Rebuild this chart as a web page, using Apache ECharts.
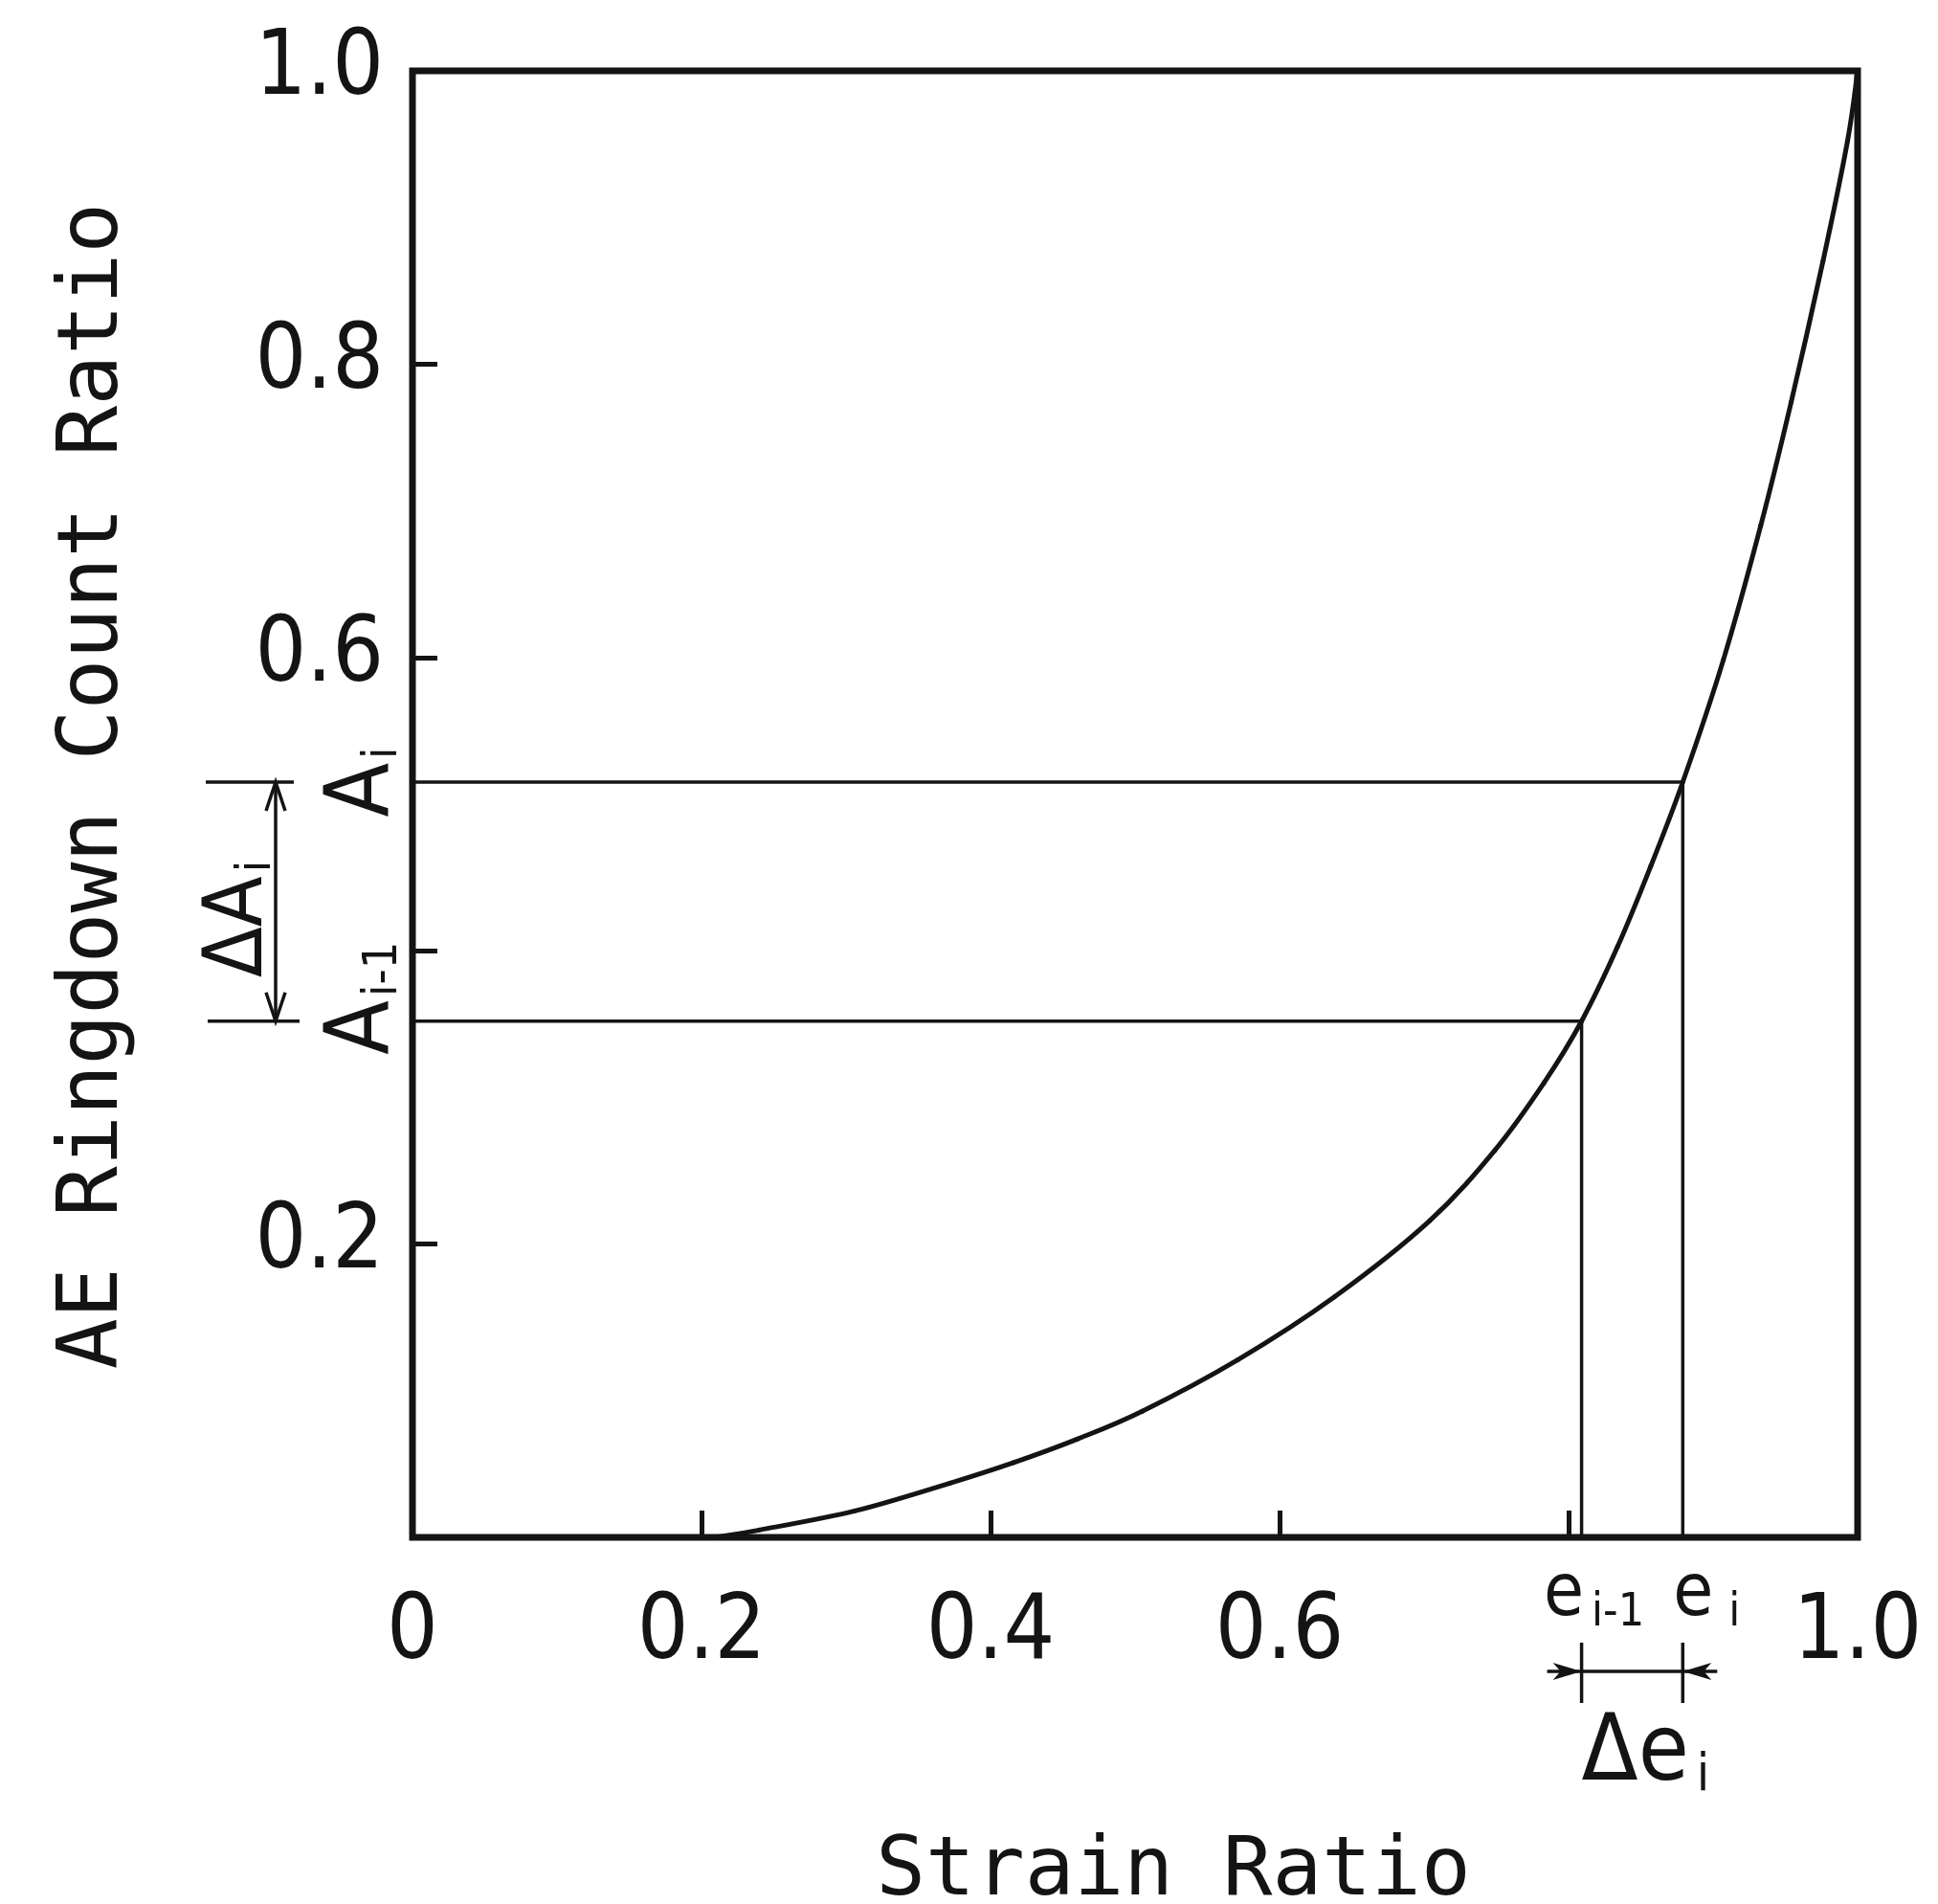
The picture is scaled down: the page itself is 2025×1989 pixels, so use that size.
<!DOCTYPE html>
<html>
<head>
<meta charset="utf-8">
<title>AE Ringdown Count Ratio vs Strain Ratio</title>
<script src="https://cdn.jsdelivr.net/npm/echarts/dist/echarts.min.js"></script>
<style>
  html, body { margin: 0; padding: 0; background: #ffffff; }
  #chart { width: 2025px; height: 1989px; }
</style>
</head>
<body>
<div id="chart"></div>
<script>
// Cumulative AE ringdown count (normalised) against strain (normalised)
const strainRatio = [0.210, 0.240, 0.306, 0.372, 0.416, 0.460, 0.505, 0.571, 0.638, 0.704,
                     0.749, 0.783, 0.809, 0.834, 0.857, 0.879, 0.907, 0.933, 0.954, 0.976,
                     0.993, 1.000];
const countRatio  = [0.000, 0.005, 0.018, 0.037, 0.051, 0.067, 0.086, 0.121, 0.164, 0.216,
                     0.264, 0.310, 0.352, 0.403, 0.458, 0.515, 0.598, 0.690, 0.774, 0.870,
                     0.952, 1.000];

// Two successive readings on the curve: (e_{i-1}, A_{i-1}) and (e_i, A_i)
const stepStrain = [0.809, 0.879];
const stepCount  = [0.352, 0.515];

// Axis ticks and labels
const xTickValues  = [0.2, 0.4, 0.6, 0.8];
const xLabelValues = [0, 0.2, 0.4, 0.6, 1.0];
const yTickValues  = [0.2, 0.4, 0.6, 0.8];
const yLabelValues = [0.2, 0.6, 0.8, 1.0];

const ink = '#141414';
const numFont = "'DejaVu Sans Condensed', 'DejaVu Sans'";
const monoFont = "'DejaVu Sans Mono'";

const curve = strainRatio.map((x, i) => [x, countRatio[i]]);
const guidePrev = [[0, stepCount[0]], [stepStrain[0], stepCount[0]], [stepStrain[0], 0]];
const guideCurr = [[0, stepCount[1]], [stepStrain[1], stepCount[1]], [stepStrain[1], 0]];

const fmtNum = v => (v === 0 ? '0' : v.toFixed(1));

// Smooth curve through every reading: one cubic segment per interval
// (Catmull-Rom tangents), positioned through the cartesian axes.
function renderCurve(params, api) {
  const i = params.dataIndex;
  const n = curve.length;
  if (i >= n - 1) return null;
  const P = k => api.coord(curve[Math.max(0, Math.min(n - 1, k))]);
  const p0 = P(i - 1), p1 = P(i), p2 = P(i + 1), p3 = P(i + 2);
  return {
    type: 'bezierCurve',
    shape: {
      x1: p1[0], y1: p1[1], x2: p2[0], y2: p2[1],
      cpx1: p1[0] + (p2[0] - p0[0]) / 6, cpy1: p1[1] + (p2[1] - p0[1]) / 6,
      cpx2: p2[0] - (p3[0] - p1[0]) / 6, cpy2: p2[1] - (p3[1] - p1[1]) / 6
    },
    style: { stroke: ink, lineWidth: 5, fill: null, lineCap: 'round' }
  };
}

// ΔA_i bracket to the left of the y axis
function renderDeltaA(params, api) {
  const yLow = api.coord([0, api.value(1)])[1];
  const yHigh = api.coord([0, api.value(3)])[1];
  const x0 = params.coordSys.x;
  const xs = x0 - 143;
  const head = 30, half = 10;
  const ls = { stroke: ink, lineWidth: 3.5, fill: null };
  return {
    type: 'group',
    children: [
      { type: 'line', shape: { x1: x0 - 216, y1: yHigh, x2: x0 - 124, y2: yHigh }, style: ls },
      { type: 'line', shape: { x1: x0 - 214, y1: yLow, x2: x0 - 118, y2: yLow }, style: ls },
      { type: 'line', shape: { x1: xs, y1: yHigh, x2: xs, y2: yLow }, style: ls },
      { type: 'polyline', shape: { points: [[xs - half, yHigh + head], [xs, yHigh], [xs + half, yHigh + head]] }, style: ls },
      { type: 'polyline', shape: { points: [[xs - half, yLow - head], [xs, yLow], [xs + half, yLow - head]] }, style: ls },
      {
        type: 'text', x: x0 - 180, y: (yHigh + yLow) / 2 + 18, rotation: Math.PI / 2,
        style: {
          text: '{d|\u0394A}{s|i}', align: 'center', verticalAlign: 'middle', fill: ink,
          rich: {
            d: { fontSize: 86, fontFamily: numFont, fill: ink },
            s: { fontSize: 50, fontFamily: numFont, fill: ink, padding: [36, 0, 0, 4] }
          }
        }
      }
    ]
  };
}

// Δe_i bracket under the x axis
function renderDeltaE(params, api) {
  const x1 = api.coord([api.value(0), 0])[0];
  const x2 = api.coord([api.value(2), 0])[0];
  const y0 = params.coordSys.y + params.coordSys.height;
  const ya = y0 + 140;
  const head = 30, half = 9;
  const ls = { stroke: ink, lineWidth: 3.5, fill: null };
  return {
    type: 'group',
    children: [
      { type: 'line', shape: { x1: x1, y1: y0 + 110, x2: x1, y2: y0 + 173 }, style: ls },
      { type: 'line', shape: { x1: x2, y1: y0 + 110, x2: x2, y2: y0 + 173 }, style: ls },
      { type: 'line', shape: { x1: x1 - 36, y1: ya, x2: x2 + 36, y2: ya }, style: ls },
      { type: 'polygon', shape: { points: [[x1, ya], [x1 - head, ya - half], [x1 - head + 8, ya], [x1 - head, ya + half]] }, style: { fill: ink } },
      { type: 'polygon', shape: { points: [[x2, ya], [x2 + head, ya - half], [x2 + head - 8, ya], [x2 + head, ya + half]] }, style: { fill: ink } },
      {
        type: 'text', x: (x1 + x2) / 2 + 14, y: y0 + 228,
        style: {
          text: '{d|\u0394e}{s|i}', align: 'center', verticalAlign: 'middle', fill: ink,
          rich: {
            d: { fontSize: 96, fontFamily: numFont, fill: ink },
            s: { fontSize: 54, fontFamily: numFont, fill: ink, padding: [44, 0, 0, 8] }
          }
        }
      }
    ]
  };
}

const chart = echarts.init(document.getElementById('chart'), null, { renderer: 'canvas' });

chart.setOption({
  backgroundColor: '#ffffff',
  animation: false,
  grid: {
    left: 431, top: 74, width: 1510, height: 1532,
    containLabel: false, outerBoundsMode: 'none',
    show: true, borderColor: ink, borderWidth: 7, backgroundColor: 'transparent'
  },
  xAxis: [
    {
      type: 'value', min: 0, max: 1, position: 'bottom',
      name: 'Strain Ratio', nameLocation: 'middle', nameGap: 308,
      nameTextStyle: { fontSize: 86, fontFamily: monoFont, color: ink, padding: [0, 0, 0, 80] },
      axisLine: { show: false },
      axisTick: { show: true, inside: true, length: 28, customValues: xTickValues, lineStyle: { color: ink, width: 5 } },
      axisLabel: { customValues: xLabelValues, formatter: fmtNum, fontSize: 94, fontFamily: numFont, color: ink, margin: 55, showMinLabel: true, showMaxLabel: true },
      splitLine: { show: false }
    },
    {
      type: 'value', min: 0, max: 1, position: 'bottom', offset: 0,
      axisLine: { show: false }, axisTick: { show: false }, splitLine: { show: false },
      axisLabel: {
        customValues: stepStrain, margin: 18, color: ink,
        formatter: v => (v === stepStrain[0] ? '{e|e}{s|i-1}' : '{ec|e}{si|i}'),
        rich: {
          e: { fontSize: 76, fontFamily: numFont, color: ink, padding: [0, 0, 0, 26] },
          ec: { fontSize: 76, fontFamily: numFont, color: ink, padding: [0, 0, 0, 50] },
          s: { fontSize: 48, fontFamily: numFont, color: ink, padding: [38, 0, 0, 8] },
          si: { fontSize: 48, fontFamily: numFont, color: ink, padding: [38, 0, 0, 16] }
        }
      }
    }
  ],
  yAxis: [
    {
      type: 'value', min: 0, max: 1, position: 'left',
      name: 'AE Ringdown Count Ratio', nameLocation: 'middle', nameGap: 288, nameRotate: 90,
      nameTextStyle: { fontSize: 88, fontFamily: monoFont, color: ink, padding: [0, 0, 0, 38] },
      axisLine: { show: false },
      axisTick: { show: true, inside: true, length: 26, customValues: yTickValues, lineStyle: { color: ink, width: 5 } },
      axisLabel: { customValues: yLabelValues, formatter: fmtNum, fontSize: 94, fontFamily: numFont, color: ink, margin: 30, showMaxLabel: true },
      splitLine: { show: false }
    },
    {
      type: 'value', min: 0, max: 1, position: 'left', offset: 0,
      axisLine: { show: false }, axisTick: { show: false }, splitLine: { show: false },
      axisLabel: {
        customValues: stepCount, rotate: 90, margin: 4, color: ink,
        formatter: v => (v === stepCount[0] ? '{ap|A}{s|i-1}' : '{a|A}{s|i}'),
        rich: {
          a: { fontSize: 92, fontFamily: numFont, color: ink },
          ap: { fontSize: 92, fontFamily: numFont, color: ink, padding: [0, 0, 0, 48] },
          s: { fontSize: 50, fontFamily: numFont, color: ink, padding: [40, 0, 0, 4] }
        }
      }
    }
  ],
  series: [
    {
      name: 'AE ringdown count', type: 'custom', renderItem: renderCurve,
      data: curve, encode: { x: 0, y: 1 }, clip: false, silent: true, z: 3
    },
    {
      name: 'A(i-1)', type: 'line', data: guidePrev, showSymbol: false,
      lineStyle: { color: ink, width: 3.5 }, z: 2
    },
    {
      name: 'A(i)', type: 'line', data: guideCurr, showSymbol: false,
      lineStyle: { color: ink, width: 3.5 }, z: 2
    },
    {
      type: 'custom', renderItem: renderDeltaA, clip: false, silent: true,
      data: [[stepStrain[0], stepCount[0], stepStrain[1], stepCount[1]]],
      encode: { x: 0, y: 1 }
    },
    {
      type: 'custom', renderItem: renderDeltaE, clip: false, silent: true,
      data: [[stepStrain[0], stepCount[0], stepStrain[1], stepCount[1]]],
      encode: { x: 0, y: 1 }
    }
  ]
});
</script>
</body>
</html>
